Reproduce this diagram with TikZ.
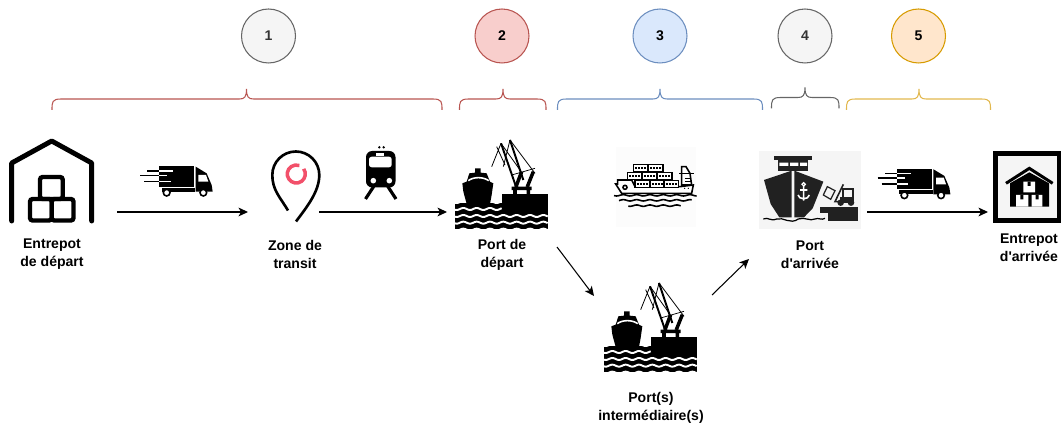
\documentclass[tikz,border=0pt]{standalone}
\usepackage{fontspec}
\setmainfont{Liberation Sans}
\usetikzlibrary{arrows.meta}
\definecolor{greyline}{HTML}{666666}
\definecolor{greyfill}{HTML}{F5F5F5}
\definecolor{greytext}{HTML}{333333}
\definecolor{redline}{HTML}{B85450}
\definecolor{redfill}{HTML}{F8CECC}
\definecolor{blueline}{HTML}{6C8EBF}
\definecolor{bluefill}{HTML}{DAE8FC}
\definecolor{goldline}{HTML}{D79B00}
\definecolor{goldfill}{HTML}{FFE6CC}
\definecolor{goldbrace}{HTML}{E2B84E}
\definecolor{pinred}{HTML}{F2506A}
\def\groupbrace[#1](#2,#3,#4,#5){\draw[#1] (#2,#5) .. controls (#2,{#5-8}) and (#2,{#5-11}) .. ({#2+9},{#5-11}) -- ({#3-7},{#5-11}) .. controls ({#3-2},{#5-11}) and (#3,{#5-13}) .. (#3,{#5-21}) .. controls (#3,{#5-13}) and ({#3+2},{#5-11}) .. ({#3+7},{#5-11}) -- ({#4-9},{#5-11}) .. controls (#4,{#5-11}) and (#4,{#5-8}) .. (#4,#5);}
\def\wavy[#1](#2,#3,#4,#5){\draw[#1] plot[domain=#2:#3,samples=70,smooth] (\x,{#4+#5*sin(\x*9)});}
\def\truckicon(#1,#2){
	\begin{scope}[shift={(#1,#2)},finer]
		\fill (87,48) rectangle (193,110);
		\fill (95,113) rectangle (195,125);
		\fill (197,50) -- (230,70) -- (245,105) -- (248,125) -- (197,125) -- cycle;
		\fill[white] (205,75) -- (228,75) -- (235,95) -- (205,95) -- cycle;
		\draw[line width=0.9pt] (52,63) -- (87,63) (30,77) -- (87,77) (42,94) -- (87,94);
		\draw[white, line width=0.9pt] (87,63) -- (130,63) (87,77) -- (112,77) (87,94) -- (122,94);
		\draw[fill=white, line width=0.9pt] (110,128) circle (10);
		\draw[fill=white, line width=0.9pt] (220,128) circle (10);
	\end{scope}
}
\def\porticon(#1,#2){
	\begin{scope}[shift={(#1,#2)},finer]
		\fill (45,610) rectangle (323,686);
		\fill (185,582) rectangle (323,645);
		\wavy[white, line width=1.1pt](45,185,606,3)
		\wavy[white, line width=1.1pt](45,323,689,3)
		\fill (105,505) -- (122,505) -- (122,518) -- (140,520) -- (150,545) -- (160,550) -- (155,585) -- (150,612) -- (80,612) -- (70,575) -- (67,550) -- (80,545) -- (88,520) -- (105,518) -- cycle;
		\draw[white, line width=0.9pt] (85,542) .. controls (100,530) and (130,530) .. (146,542);
		\wavy[white, line width=1.1pt](45,185,627,3)
		\wavy[white, line width=1.1pt](45,323,648,3)
		\wavy[white, line width=1.1pt](45,323,668,3)
		\draw[line width=0.45pt] (210,420) -- (285,520) (183,430) -- (240,510) (183,430) -- (155,500) (210,420) -- (190,500) (170,440) -- (195,495);
		\draw[line width=1.1pt] (210,420) -- (250,540) (183,430) -- (228,560);
		\draw[line width=0.4pt] (215,525) -- (285,505);
		\draw[line width=2pt] (225,582) -- (225,560) (265,582) -- (265,560) (215,565) -- (275,565) (228,560) -- (245,515) (262,560) -- (280,515);
	\end{scope}
}

\begin{document}
\begin{tikzpicture}[x=0.02cm,y=-0.02cm,
		finer/.style={x=0.00667cm,y=-0.00667cm},
		stepmark/.style={circle,minimum size=1.08cm,inner sep=0pt,line width=0.6pt,font=\fontsize{8}{10}\selectfont\bfseries},
		caption/.style={align=center,font=\fontsize{8}{10.2}\selectfont\bfseries},
		flow/.style={line width=0.6pt,-{Stealth[length=5.4pt,width=5pt,inset=1.4pt]}}]
	%%%%% START %%%%%
	\useasboundingbox (0,0) rectangle (1061,428);

	\node[stepmark,draw=greyline,fill=greyfill,text=greytext] (stepone) at (268.5,36) {1};
	\node[stepmark,draw=redline,fill=redfill,text=black] (steptwo) at (502,36) {2};
	\node[stepmark,draw=blueline,fill=bluefill,text=black] (stepthree) at (660,36) {3};
	\node[stepmark,draw=greyline,fill=greyfill,text=greytext] (stepfour) at (805,36) {4};
	\node[stepmark,draw=goldline,fill=goldfill,text=black] (stepfive) at (918.5,36) {5};

	\groupbrace[line width=0.6pt,color=redline](52,246.5,442,110)
	\groupbrace[line width=0.6pt,color=redline](459.5,503,546,110)
	\groupbrace[line width=0.6pt,color=blueline](557.5,660,762.5,110)
	\groupbrace[line width=0.6pt,color=greyline](771.5,805,839,108.5)
	\groupbrace[line width=0.6pt,color=goldbrace](846.5,919,990.5,110)

	% warehouse
	\draw[line width=2.8pt,line cap=round,line join=round] (11.7,221) -- (11.7,163) -- (51.7,141) -- (91.7,163) -- (91.7,221);
	\draw[line width=2.5pt,rounded corners=1.5pt] (30,199) rectangle (51.7,220.5);
	\draw[line width=2.5pt,rounded corners=1.5pt] (51.7,199) rectangle (73.5,220.5);
	\draw[line width=2.5pt,rounded corners=1.5pt] (40,177) rectangle (62.7,199);

	\truckicon(130,150)
	\truckicon(867.7,152.6)

	% pin
	\draw[line width=1.5pt] (288,210.5) .. controls (280,197) and (272.3,190) .. (272.3,175) arc (180:360:23.5) .. controls (319.3,192) and (306,208) .. (296,221.5);
	\draw[line width=2pt,color=pinred] (296.3,174) ++(325:9) arc (325:650:9);

	% train
	\fill[rounded corners=3.5pt] (366,151) rectangle (395.5,187.5);
	\fill[white,rounded corners=1.5pt] (369,156.7) rectangle (391.7,167.3);
	\fill[white] (375.7,152.7) rectangle (384.3,156);
	\fill (379.3,147.3) circle (1.3) (383.7,147.3) circle (1.3);
	\fill[white] (373.3,180.7) circle (2.8) (389.3,180.7) circle (2.8);
	\draw[line width=1.8pt] (374,186) -- (365.5,199) (387.5,186) -- (396,199);

	\porticon(440,0)
	\porticon(589,143)

	% container ship
	\begin{scope}[shift={(440,0)},finer]
		\fill[black!1] (527,440) rectangle (767,680);
		\draw[line width=0.9pt,fill=white] (533,540) -- (575,540) -- (585,560) -- (720,560) -- (760,555) -- (755,580) -- (545,580) -- (527,552) -- (533,552) -- cycle;
		\foreach \xa/\ya in {580/493,625/493,562/517,607/517,652/517,585/541,630/541,672/541}{
			\draw[line width=0.9pt,fill=white] (\xa,\ya) rectangle ({\xa+44},{\ya+22});
			\draw[line width=1.1pt,dash pattern=on 1.1pt off 0.6pt] ({\xa+6},{\ya+11}) -- ({\xa+38},{\ya+11});
		}
		\draw[line width=0.9pt,fill=white] (725,500) -- (738,500) -- (750,520) -- (755,555) -- (725,555) -- cycle;
		\draw[line width=0.9pt] (718,521) -- (762,521) (735,535) -- (753,535) (735,545) -- (753,545);
		\draw[line width=0.9pt] (555,562) circle (6);
		\fill (734,565) circle (2) (745,565) circle (2);
		\wavy[line width=0.9pt](522,770,586,2)
		\wavy[line width=0.9pt](537,755,601,2)
		\wavy[line width=0.9pt](565,722,617,2)
	\end{scope}

	% arrival port
	\begin{scope}[shift={(740,0)},finer]
		\fill[black!4] (57,453) rectangle (363,686);
		\fill[black!87] (103,467) rectangle (216,480);
		\fill[black!87] (113,480) rectangle (205,512);
		\fill[white] (118,488) rectangle (145,498) (150,488) rectangle (175,498) (180,488) rectangle (201,498);
		\fill[black!87] (72,540) -- (155,512) -- (155,652) -- (118,652) -- (92,612) -- cycle;
		\fill[black!87] (163,512) -- (250,545) -- (218,625) -- (192,652) -- (163,652) -- cycle;
		\draw[white,line width=0.7pt] (191,553) circle (5);
		\draw[white,line width=0.9pt] (191,558) -- (191,602) (174,585) .. controls (176,600) and (206,600) .. (208,585) (180,570) -- (202,570);
		\fill[black!87] (240,620) rectangle (353,662);
		\fill[black!4] (240,640) rectangle (265,662);
		\draw[line width=0.7pt] (70,657) .. controls (85,650) and (90,665) .. (110,657) .. controls (130,650) and (150,675) .. (175,657) .. controls (195,650) and (210,665) .. (225,657) .. controls (235,652) and (245,662) .. (255,655);
		% forklift
		\draw[line width=0.7pt,black!87] (262,560) -- (285,572) -- (272,598) -- (250,585) -- cycle;
		\draw[line width=0.9pt,black!87] (310,553) -- (285,605) -- (310,605);
		\draw[line width=1.1pt,black!87] (310,568) rectangle (340,605);
		\fill[black!87] (300,590) rectangle (342,605);
		\draw[fill=white,line width=1pt,black!87] (302,608) circle (7) (333,608) circle (7);
	\end{scope}

	% arrival warehouse
	\begin{scope}[shift={(980,140)},finer]
		\draw[line width=3.2pt,fill=black!4] (46,40) rectangle (238,242);
		\draw[line width=1.7pt] (78,130) -- (148,85) -- (218,130);
		\fill (90,130) -- (148,97) -- (207,130) -- (207,200) -- (90,200) -- cycle;
		\fill[white] (130,125) rectangle (165,157) (108,165) rectangle (145,200) (155,165) rectangle (187,200);
		\fill (143,125) rectangle (152,138) (121,165) rectangle (130,178) (167,165) rectangle (176,178);
	\end{scope}

	\coordinate (departout) at (117,212);
	\coordinate (transitin) at (248,212);
	\coordinate (transitout) at (319,212);
	\coordinate (portin) at (447,212);
	\coordinate (portout) at (557,247);
	\coordinate (middlein) at (594,296);
	\coordinate (middleout) at (712,295);
	\coordinate (arrivalin) at (749,259);
	\coordinate (arrivalout) at (867,212);
	\coordinate (storein) at (988,212);
	\draw[flow] (departout) -- (transitin);
	\draw[flow] (transitout) -- (portin);
	\draw[flow] (portout) -- (middlein);
	\draw[flow] (middleout) -- (arrivalin);
	\draw[flow] (arrivalout) -- (storein);

	\node[caption] (departlabel) at (52,254.5) {Entrepot\\de départ};
	\node[caption] (transitlabel) at (295,254.5) {Zone de\\transit};
	\node[caption] (portlabel) at (502,254.5) {Port de\\départ};
	\node[caption] (middlelabel) at (651,408) {Port(s)\\intermédiaire(s)};
	\node[caption] (arrivallabel) at (810,254.5) {Port\\d\textquotesingle arrivée};
	\node[caption] (storelabel) at (1029,247.5) {Entrepot\\d\textquotesingle arrivée};
	%%%%% END %%%%%
\end{tikzpicture}
\end{document}
